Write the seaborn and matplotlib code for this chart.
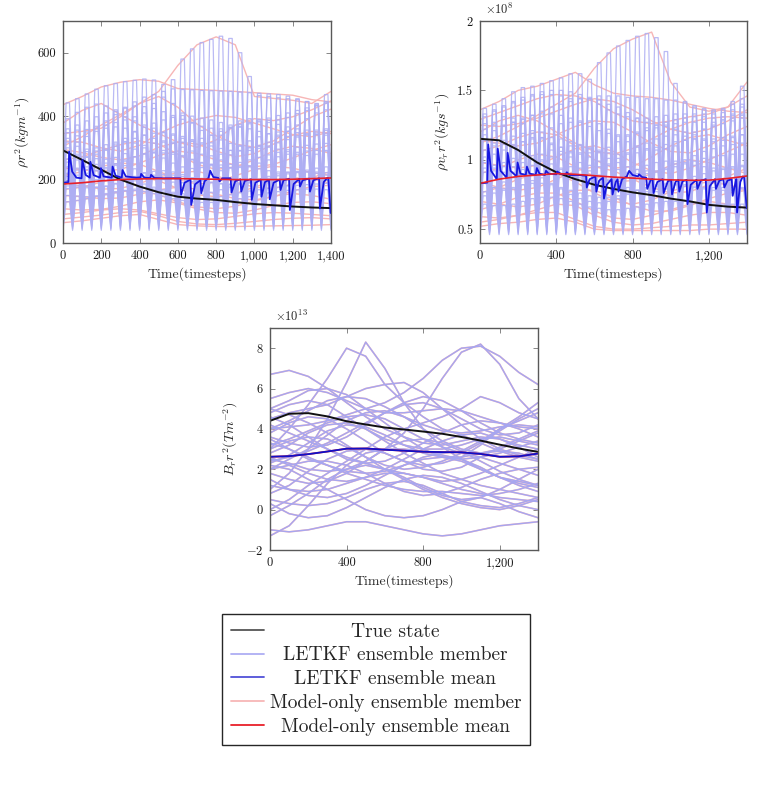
import numpy as np
import pandas as pd
import seaborn as sns
import matplotlib.pyplot as plt
from matplotlib.lines import Line2D

sns.set_theme(style='ticks')
plt.rcParams.update({
    'font.family': ['cmr10', 'DejaVu Serif'],
    'mathtext.fontset': 'cm',
    'axes.unicode_minus': False,
    'xtick.direction': 'in', 'ytick.direction': 'in',
    'xtick.top': True, 'ytick.right': True,
    'xtick.color': '0.45', 'ytick.color': '0.45',
    'xtick.labelcolor': '0.1', 'ytick.labelcolor': '0.1',
    'axes.edgecolor': '0.35', 'axes.linewidth': 1.0,
})

# ---- data ----
t_grid = [0, 100, 200, 300, 400, 500, 600, 700, 800, 900, 1000, 1100, 1200, 1300, 1400]
# LETKF cycles: analysis every 50 steps; each forecast climbs to its peak, then drops at analysis
t_arch = [s for k in range(0, 1400, 50) for s in (k, k + 16, k + 34)] + [1400]

# panel 1: rho r^2
p1_true = [292, 262, 231, 200, 178, 160, 146, 140, 136, 129, 123, 119, 115, 112, 110]
p1_model_mean = [186, 190, 196, 200, 202, 203, 203, 202, 201, 200, 200, 200, 201, 203, 205]
p1_mean_t = [0, 28, 32, 48, 70, 97, 101, 118, 140, 143, 160, 193, 198, 212, 255, 259, 275, 307, 311, 328,
             380, 405, 408, 425, 456, 460, 478, 530, 613, 617, 635, 666, 670, 690, 718, 722, 740, 760, 769, 785,
             812, 818, 832, 876, 880, 900, 927, 931, 950, 982, 986, 1005, 1033, 1037, 1055, 1076, 1080, 1100,
             1132, 1136, 1152, 1181, 1185, 1205, 1234, 1238, 1252, 1286, 1290, 1308, 1338, 1342, 1362, 1380,
             1386, 1398, 1400]
p1_mean_v = [190, 192, 288, 225, 206, 204, 262, 215, 206, 256, 214, 206, 236, 210, 206, 241, 212, 206, 230, 210,
             206, 207, 218, 206, 205, 215, 205, 204, 204, 152, 190, 200, 120, 185, 198, 157, 195, 205, 228, 208,
             205, 194, 204, 204, 159, 195, 201, 162, 196, 201, 136, 190, 200, 146, 192, 199, 138, 190,
             200, 167, 198, 202, 104, 186, 202, 178, 198, 203, 162, 198, 204, 109, 192, 205,
             204, 96, 94]
p1_model_members = [
    [436, 462, 492, 507, 515, 510, 487, 484, 481, 478, 474, 470, 466, 452, 445],
    [305, 335, 372, 405, 440, 478, 560, 625, 650, 625, 462, 456, 450, 440, 478],
    [378, 418, 440, 405, 372, 345, 318, 302, 325, 372, 392, 386, 398, 420, 448],
    [345, 352, 362, 398, 440, 462, 428, 375, 338, 312, 302, 322, 360, 398, 422],
    [322, 318, 300, 290, 308, 345, 372, 390, 402, 396, 378, 360, 342, 335, 352],
    [295, 285, 270, 262, 275, 302, 318, 312, 290, 272, 282, 312, 340, 352, 345],
    [262, 272, 292, 310, 322, 312, 280, 248, 232, 240, 262, 290, 305, 298, 282],
    [236, 232, 226, 232, 252, 276, 290, 282, 262, 246, 240, 248, 268, 292, 310],
    [212, 225, 242, 252, 248, 226, 200, 186, 192, 212, 232, 242, 236, 222, 212],
    [190, 180, 170, 172, 188, 208, 222, 226, 212, 192, 176, 172, 186, 206, 226],
    [168, 176, 192, 206, 210, 196, 172, 152, 146, 156, 176, 196, 206, 202, 188],
    [150, 146, 140, 142, 154, 168, 176, 170, 154, 140, 136, 146, 164, 178, 182],
    [128, 136, 150, 162, 166, 152, 130, 114, 108, 116, 132, 148, 156, 150, 138],
    [108, 104, 106, 116, 130, 136, 126, 108, 96, 94, 104, 118, 128, 130, 124],
    [90, 96, 104, 108, 104, 92, 80, 74, 76, 84, 92, 96, 94, 90, 86],
    [76, 82, 88, 96, 100, 86, 68, 60, 58, 62, 68, 74, 78, 80, 76],
    [64, 70, 78, 86, 90, 74, 58, 54, 52, 52, 53, 54, 55, 56, 58],
]
p1_letkf_peaks = [
    [442, 455, 470, 485, 496, 503, 509, 513, 517, 514, 500, 515, 580, 612, 632, 642, 652, 645, 600, 525, 465, 462, 458, 455, 452, 446, 438, 468],
    [392, 412, 428, 438, 432, 415, 398, 385, 372, 362, 350, 340, 330, 320, 312, 316, 340, 365, 385, 392, 390, 387, 388, 396, 408, 418, 432, 445],
    [348, 356, 358, 368, 385, 405, 425, 445, 460, 468, 460, 440, 410, 380, 355, 340, 325, 314, 305, 302, 308, 318, 335, 352, 372, 392, 410, 420],
    [330, 338, 350, 362, 372, 380, 388, 398, 410, 440, 478, 486, 484, 483, 481, 480, 479, 478, 476, 474, 472, 470, 468, 463, 455, 446, 440, 445],
    [318, 305, 296, 290, 296, 312, 330, 350, 365, 378, 388, 396, 402, 400, 394, 388, 380, 372, 365, 360, 352, 345, 340, 336, 338, 344, 350, 355],
    [288, 280, 272, 266, 264, 270, 282, 296, 308, 315, 318, 314, 302, 290, 280, 275, 280, 292, 308, 322, 335, 344, 350, 352, 348, 344, 342, 340],
    [265, 275, 288, 300, 310, 318, 320, 315, 300, 285, 268, 252, 240, 235, 238, 248, 262, 278, 292, 300, 304, 302, 296, 288, 280, 276, 280, 290],
    [240, 236, 232, 230, 234, 245, 258, 272, 282, 290, 292, 286, 276, 264, 254, 248, 246, 248, 254, 262, 270, 278, 286, 294, 302, 308, 312, 314],
    [220, 230, 240, 248, 252, 250, 244, 234, 222, 210, 200, 192, 190, 194, 204, 216, 228, 238, 242, 240, 234, 228, 224, 222, 224, 230, 236, 240],
    [196, 188, 180, 176, 178, 186, 198, 210, 220, 226, 228, 224, 216, 206, 198, 192, 188, 186, 188, 194, 202, 210, 218, 224, 226, 224, 220, 215],
    [172, 180, 190, 200, 206, 208, 204, 196, 186, 176, 168, 160, 155, 152, 154, 160, 168, 176, 184, 190, 194, 196, 198, 200, 202, 204, 205, 206],
    [150, 148, 146, 148, 152, 158, 164, 170, 172, 170, 164, 156, 148, 142, 140, 142, 146, 152, 158, 164, 168, 172, 176, 180, 182, 184, 186, 188],
    [360, 372, 385, 398, 410, 420, 428, 432, 430, 424, 414, 402, 390, 378, 368, 362, 360, 362, 368, 376, 385, 394, 402, 410, 418, 426, 434, 440],
    [300, 318, 336, 352, 362, 366, 362, 352, 340, 330, 322, 318, 318, 322, 330, 340, 352, 364, 374, 380, 382, 380, 374, 366, 360, 356, 356, 360],
    [255, 262, 270, 280, 292, 305, 318, 330, 340, 346, 348, 344, 336, 326, 316, 306, 298, 292, 290, 292, 298, 306, 316, 326, 334, 340, 344, 346],
    [210, 214, 220, 228, 238, 250, 262, 272, 280, 284, 284, 280, 272, 262, 252, 244, 238, 236, 238, 244, 252, 262, 272, 280, 286, 290, 292, 292],
    [180, 176, 174, 176, 180, 188, 196, 204, 210, 214, 216, 214, 210, 204, 196, 190, 186, 184, 186, 190, 196, 204, 212, 218, 222, 224, 224, 222],
    [130, 134, 140, 148, 156, 162, 166, 166, 162, 156, 148, 140, 134, 130, 128, 128, 130, 134, 140, 146, 152, 158, 162, 166, 168, 170, 170, 168],
]
p1_letkf_troughs = [170, 140, 120, 200, 110, 95, 85, 75, 65, 60, 55, 50, 130, 100, 80, 70, 45, 40]

# panel 2: rho v_r r^2 (x 1e8)
p2_true = [1.151, 1.14, 1.07, 0.98, 0.91, 0.86, 0.82, 0.79, 0.765, 0.745, 0.72, 0.70, 0.675, 0.662, 0.655]
p2_model_mean = [0.83, 0.86, 0.88, 0.89, 0.90, 0.895, 0.885, 0.875, 0.868, 0.86, 0.855, 0.852, 0.853, 0.865, 0.883]
p2_mean_t = [0, 38, 43, 58, 88, 93, 108, 140, 145, 160, 192, 197, 212, 240, 246, 260, 292, 298, 312, 340,
             346, 360, 400, 405, 420, 450, 455, 470, 510, 556, 560, 575, 605, 610, 625, 645, 650, 665, 690, 695,
             712, 722, 726, 745, 770, 782, 800, 828, 834, 850, 872, 877, 895, 905, 910, 930, 958, 963, 985, 1002,
             1007, 1025, 1040, 1045, 1062, 1083, 1088, 1105, 1135, 1140, 1158, 1184, 1189, 1205, 1232, 1237,
             1255, 1276, 1281, 1298, 1320, 1325, 1340, 1344, 1348, 1365, 1378, 1385, 1398, 1400]
p2_mean_v = [0.83, 0.835, 1.11, 0.92, 0.86, 1.08, 0.92, 0.87, 1.05, 0.92, 0.88, 0.98, 0.90, 0.89, 0.95, 0.90,
             0.89, 0.94, 0.90, 0.89, 0.92, 0.90, 0.895, 0.915, 0.90, 0.895, 0.91, 0.89, 0.89, 0.885, 0.80, 0.86,
             0.88, 0.77, 0.85, 0.87, 0.72, 0.82, 0.86, 0.75, 0.84, 0.86, 0.77, 0.86, 0.88, 0.92, 0.89, 0.88,
             0.895, 0.875, 0.87, 0.79, 0.855, 0.86, 0.76, 0.84, 0.86, 0.76, 0.845, 0.855, 0.75, 0.84, 0.855,
             0.77, 0.845, 0.855, 0.68, 0.82, 0.855, 0.79, 0.85, 0.86, 0.62, 0.81, 0.86, 0.79, 0.85, 0.86, 0.80,
             0.85, 0.86, 0.74, 0.84, 0.86, 0.62, 0.84, 0.88, 0.87, 0.66, 0.65]
p2_model_members = [
    [1.36, 1.42, 1.50, 1.53, 1.58, 1.63, 1.54, 1.48, 1.46, 1.45, 1.43, 1.40, 1.37, 1.35, 1.34],
    [1.12, 1.17, 1.24, 1.32, 1.40, 1.48, 1.66, 1.80, 1.87, 1.92, 1.56, 1.38, 1.35, 1.38, 1.56],
    [1.29, 1.34, 1.39, 1.44, 1.47, 1.46, 1.42, 1.34, 1.28, 1.26, 1.28, 1.31, 1.33, 1.38, 1.46],
    [1.25, 1.24, 1.26, 1.30, 1.35, 1.40, 1.44, 1.42, 1.36, 1.28, 1.22, 1.19, 1.22, 1.28, 1.36],
    [1.20, 1.28, 1.32, 1.28, 1.20, 1.12, 1.06, 1.04, 1.08, 1.15, 1.22, 1.27, 1.30, 1.31, 1.30],
    [1.14, 1.12, 1.10, 1.12, 1.18, 1.24, 1.28, 1.27, 1.20, 1.12, 1.06, 1.05, 1.10, 1.18, 1.24],
    [1.06, 1.10, 1.16, 1.20, 1.18, 1.10, 1.00, 0.94, 0.95, 1.02, 1.10, 1.16, 1.18, 1.14, 1.10],
    [0.98, 0.96, 0.94, 0.96, 1.02, 1.08, 1.10, 1.06, 0.98, 0.92, 0.90, 0.94, 1.00, 1.06, 1.12],
    [0.90, 0.94, 1.00, 1.04, 1.02, 0.95, 0.88, 0.84, 0.85, 0.90, 0.96, 1.00, 0.98, 0.94, 0.90],
    [0.84, 0.80, 0.78, 0.80, 0.86, 0.92, 0.95, 0.92, 0.86, 0.80, 0.76, 0.77, 0.82, 0.88, 0.94],
    [0.76, 0.80, 0.86, 0.90, 0.90, 0.84, 0.76, 0.70, 0.68, 0.71, 0.77, 0.82, 0.84, 0.82, 0.78],
    [0.70, 0.68, 0.66, 0.68, 0.74, 0.78, 0.78, 0.73, 0.67, 0.63, 0.63, 0.67, 0.72, 0.76, 0.78],
    [0.64, 0.68, 0.73, 0.76, 0.76, 0.70, 0.63, 0.58, 0.57, 0.60, 0.64, 0.68, 0.70, 0.68, 0.65],
    [0.59, 0.58, 0.60, 0.64, 0.68, 0.67, 0.60, 0.55, 0.53, 0.54, 0.57, 0.60, 0.62, 0.62, 0.60],
    [0.55, 0.57, 0.60, 0.62, 0.62, 0.57, 0.52, 0.50, 0.50, 0.51, 0.52, 0.53, 0.53, 0.54, 0.55],
    [0.52, 0.54, 0.55, 0.57, 0.58, 0.55, 0.50, 0.49, 0.49, 0.49, 0.49, 0.49, 0.50, 0.50, 0.50],
]
p2_letkf_peaks = [
    [1.37, 1.40, 1.44, 1.49, 1.52, 1.53, 1.55, 1.57, 1.59, 1.62, 1.62, 1.58, 1.70, 1.77, 1.82, 1.86, 1.89, 1.91, 1.88, 1.78, 1.55, 1.42, 1.38, 1.36, 1.35, 1.36, 1.42, 1.53],
    [1.31, 1.35, 1.38, 1.41, 1.43, 1.46, 1.47, 1.47, 1.46, 1.44, 1.44, 1.45, 1.46, 1.46, 1.46, 1.45, 1.45, 1.44, 1.44, 1.43, 1.43, 1.41, 1.39, 1.37, 1.36, 1.37, 1.40, 1.44],
    [1.26, 1.25, 1.25, 1.27, 1.29, 1.32, 1.35, 1.38, 1.40, 1.42, 1.44, 1.44, 1.43, 1.40, 1.38, 1.34, 1.30, 1.27, 1.25, 1.24, 1.22, 1.20, 1.20, 1.22, 1.25, 1.29, 1.33, 1.38],
    [1.22, 1.27, 1.31, 1.30, 1.26, 1.21, 1.16, 1.12, 1.09, 1.06, 1.05, 1.05, 1.06, 1.09, 1.13, 1.17, 1.20, 1.23, 1.25, 1.27, 1.29, 1.30, 1.31, 1.31, 1.30, 1.31, 1.32, 1.33],
    [1.14, 1.12, 1.11, 1.11, 1.13, 1.16, 1.20, 1.23, 1.26, 1.27, 1.28, 1.28, 1.26, 1.22, 1.17, 1.13, 1.10, 1.08, 1.07, 1.08, 1.10, 1.14, 1.18, 1.22, 1.24, 1.26, 1.28, 1.30],
    [1.07, 1.10, 1.14, 1.17, 1.19, 1.19, 1.15, 1.11, 1.06, 1.02, 0.98, 0.96, 0.95, 0.97, 1.01, 1.05, 1.09, 1.12, 1.15, 1.17, 1.18, 1.17, 1.15, 1.14, 1.13, 1.14, 1.16, 1.18],
    [0.98, 0.96, 0.95, 0.95, 0.98, 1.01, 1.04, 1.07, 1.09, 1.10, 1.10, 1.08, 1.05, 1.01, 0.98, 0.95, 0.93, 0.92, 0.92, 0.94, 0.97, 1.00, 1.03, 1.06, 1.08, 1.10, 1.11, 1.12],
    [0.91, 0.94, 0.98, 1.01, 1.03, 1.03, 1.00, 0.97, 0.93, 0.90, 0.87, 0.85, 0.84, 0.85, 0.87, 0.90, 0.93, 0.96, 0.98, 0.99, 0.99, 0.98, 0.96, 0.95, 0.94, 0.94, 0.95, 0.96],
    [0.83, 0.80, 0.79, 0.79, 0.82, 0.85, 0.89, 0.92, 0.94, 0.95, 0.94, 0.92, 0.89, 0.86, 0.83, 0.80, 0.78, 0.77, 0.77, 0.79, 0.82, 0.85, 0.88, 0.90, 0.92, 0.93, 0.94, 0.95],
    [0.77, 0.80, 0.84, 0.87, 0.90, 0.90, 0.87, 0.83, 0.79, 0.75, 0.72, 0.70, 0.69, 0.70, 0.72, 0.75, 0.78, 0.80, 0.82, 0.83, 0.83, 0.82, 0.81, 0.80, 0.80, 0.80, 0.80, 0.80],
    [1.33, 1.36, 1.39, 1.42, 1.45, 1.47, 1.49, 1.50, 1.50, 1.49, 1.47, 1.44, 1.40, 1.36, 1.33, 1.31, 1.30, 1.30, 1.31, 1.32, 1.33, 1.33, 1.33, 1.33, 1.33, 1.34, 1.36, 1.40],
    [1.18, 1.21, 1.24, 1.27, 1.30, 1.32, 1.33, 1.33, 1.32, 1.30, 1.27, 1.24, 1.21, 1.19, 1.18, 1.18, 1.19, 1.21, 1.23, 1.25, 1.26, 1.27, 1.27, 1.27, 1.27, 1.28, 1.30, 1.32],
    [1.02, 1.04, 1.07, 1.10, 1.13, 1.15, 1.16, 1.16, 1.15, 1.13, 1.11, 1.09, 1.07, 1.05, 1.04, 1.04, 1.05, 1.07, 1.09, 1.11, 1.13, 1.14, 1.15, 1.15, 1.15, 1.16, 1.17, 1.18],
    [0.94, 0.92, 0.91, 0.91, 0.93, 0.96, 0.99, 1.02, 1.04, 1.05, 1.04, 1.02, 0.99, 0.96, 0.93, 0.91, 0.90, 0.90, 0.91, 0.93, 0.95, 0.97, 0.99, 1.01, 1.02, 1.03, 1.04, 1.04],
    [0.74, 0.76, 0.78, 0.80, 0.82, 0.83, 0.83, 0.82, 0.80, 0.78, 0.76, 0.74, 0.73, 0.73, 0.74, 0.76, 0.78, 0.80, 0.81, 0.82, 0.82, 0.81, 0.80, 0.79, 0.78, 0.78, 0.78, 0.79],
    [0.68, 0.67, 0.67, 0.68, 0.70, 0.72, 0.73, 0.73, 0.72, 0.70, 0.68, 0.66, 0.65, 0.64, 0.64, 0.65, 0.66, 0.68, 0.69, 0.70, 0.70, 0.70, 0.69, 0.68, 0.68, 0.68, 0.68, 0.68],
]
p2_letkf_troughs = [0.80, 0.70, 0.65, 0.60, 0.56, 0.53, 0.51, 0.50, 0.49, 0.48, 0.75, 0.62, 0.55, 0.50, 0.47, 0.46]

# panel 3: B_r r^2 (x 1e13), LETKF and model-only members coincide
p3_true = [4.40, 4.75, 4.78, 4.62, 4.38, 4.22, 4.07, 3.97, 3.87, 3.76, 3.60, 3.42, 3.22, 3.03, 2.86]
p3_mean = [2.62, 2.65, 2.75, 2.88, 3.02, 3.03, 2.97, 2.92, 2.87, 2.85, 2.84, 2.76, 2.62, 2.64, 2.78]
p3_members = [
    [6.7, 6.9, 6.6, 6.0, 5.3, 4.6, 4.0, 3.6, 3.3, 3.2, 3.4, 3.6, 3.5, 3.2, 3.0],
    [3.0, 4.0, 5.2, 6.5, 8.0, 7.6, 6.2, 5.3, 4.6, 4.0, 3.7, 3.3, 2.9, 2.6, 2.4],
    [1.0, 1.8, 3.0, 4.5, 6.3, 8.3, 7.0, 5.3, 4.0, 3.1, 2.5, 2.0, 1.6, 1.4, 1.2],
    [2.5, 2.3, 2.0, 1.9, 2.0, 2.4, 3.0, 3.8, 5.0, 6.5, 7.8, 8.2, 7.2, 5.5, 4.5],
    [4.0, 4.1, 4.2, 4.4, 4.7, 5.0, 5.3, 5.8, 6.5, 7.4, 8.0, 8.1, 7.6, 6.8, 6.2],
    [5.0, 5.4, 5.9, 6.0, 5.7, 5.0, 4.3, 3.6, 3.0, 2.6, 2.5, 2.6, 2.8, 3.1, 3.4],
    [4.5, 4.8, 5.0, 5.2, 5.6, 6.0, 6.2, 6.3, 5.8, 5.0, 4.2, 3.5, 3.0, 2.7, 2.5],
    [-1.3, -0.8, 0.2, 1.3, 2.2, 2.8, 3.0, 3.0, 2.9, 2.7, 2.5, 2.1, 1.6, 1.2, 0.9],
    [-1.0, -1.1, -1.0, -0.8, -0.6, -0.6, -0.8, -1.0, -1.2, -1.3, -1.2, -1.0, -0.8, -0.7, -0.6],
    [0.0, 0.5, 1.2, 1.8, 2.4, 3.0, 3.6, 4.0, 4.3, 4.6, 5.0, 5.6, 5.3, 4.8, 4.5],
    [2.2, 2.0, 1.5, 1.0, 0.5, 0.0, -0.3, -0.4, -0.3, 0.0, 0.4, 0.6, 0.3, -0.1, -0.4],
    [3.5, 3.0, 2.5, 2.2, 1.8, 1.5, 1.2, 1.0, 0.9, 0.9, 0.8, 0.7, 0.8, 1.0, 1.3],
    [2.8, 3.2, 3.8, 4.2, 4.3, 4.0, 3.4, 2.8, 2.3, 1.8, 1.5, 1.2, 1.0, 0.8, 0.6],
    [1.5, 1.0, 0.7, 0.6, 0.8, 1.2, 1.7, 2.2, 2.6, 2.8, 2.9, 3.4, 4.0, 4.4, 4.8],
    [4.2, 3.8, 3.4, 3.0, 2.6, 2.3, 2.0, 1.8, 1.6, 1.4, 1.5, 1.8, 2.2, 2.6, 3.0],
    [2.0, 2.5, 3.0, 3.7, 4.4, 4.8, 4.9, 4.6, 4.0, 3.4, 3.0, 2.8, 3.0, 3.4, 3.8],
    [0.5, 0.3, 0.2, 0.3, 0.6, 1.0, 1.3, 1.4, 1.2, 0.8, 0.4, 0.2, 0.1, 0.3, 0.6],
    [3.8, 4.3, 4.6, 4.5, 4.0, 3.4, 2.8, 2.4, 2.2, 2.3, 2.6, 3.2, 4.0, 4.6, 5.3],
    [2.6, 2.2, 1.8, 1.5, 1.4, 1.6, 2.0, 2.5, 3.0, 3.4, 3.7, 3.8, 3.5, 3.1, 2.6],
    [5.0, 4.7, 4.3, 3.8, 3.2, 2.6, 2.0, 1.5, 1.0, 0.6, 0.3, 0.1, 0.0, 0.2, 0.5],
    [3.2, 3.5, 3.9, 4.3, 4.6, 4.7, 4.5, 4.0, 3.5, 3.1, 2.8, 2.6, 2.3, 2.0, 1.7],
    [-0.3, 0.2, 0.8, 1.5, 2.0, 2.2, 2.0, 1.6, 1.1, 0.7, 0.5, 0.6, 1.0, 1.5, 2.0],
    [2.4, 2.6, 2.9, 3.3, 3.8, 4.3, 4.8, 5.3, 5.6, 5.4, 4.9, 4.3, 3.8, 3.5, 3.3],
    [1.8, 1.5, 1.3, 1.4, 1.8, 2.4, 3.0, 3.4, 3.5, 3.3, 2.9, 2.4, 1.9, 1.5, 1.2],
    [4.8, 5.2, 5.4, 5.2, 4.6, 4.0, 3.5, 3.2, 3.0, 3.0, 3.2, 3.5, 3.6, 3.4, 3.2],
    [0.8, 1.2, 1.9, 2.5, 2.9, 3.0, 2.8, 2.4, 2.0, 1.9, 2.1, 2.6, 3.1, 3.5, 3.9],
    [5.5, 5.8, 6.0, 5.8, 5.4, 5.0, 4.8, 4.8, 4.9, 5.0, 4.9, 4.6, 4.3, 4.1, 4.0],
    [3.6, 3.3, 3.1, 3.2, 3.6, 4.2, 4.8, 5.2, 5.3, 5.0, 4.5, 4.0, 3.7, 3.8, 4.2],
    [2.0, 2.2, 2.4, 2.4, 2.2, 1.8, 1.3, 0.9, 0.7, 0.8, 1.1, 1.5, 1.8, 2.0, 2.1],
    [4.6, 4.2, 3.6, 3.0, 2.5, 2.3, 2.4, 2.8, 3.3, 3.8, 4.2, 4.4, 4.3, 4.0, 3.6],
    [1.2, 1.0, 0.9, 1.0, 1.3, 1.6, 1.8, 1.8, 1.6, 1.3, 1.0, 0.8, 0.6, 0.5, 0.4],
    [3.0, 3.4, 3.6, 3.5, 3.1, 2.6, 2.2, 2.0, 2.1, 2.4, 2.8, 3.3, 3.9, 4.5, 5.0],
    [0.3, -0.2, -0.4, -0.3, 0.1, 0.6, 1.1, 1.5, 1.7, 1.6, 1.3, 0.9, 0.5, 0.2, 0.0],
    [4.0, 4.4, 4.9, 5.4, 5.6, 5.5, 5.1, 4.6, 4.2, 3.9, 3.8, 3.9, 4.1, 4.2, 4.1],
    [2.3, 2.7, 3.3, 3.9, 4.2, 4.1, 3.7, 3.2, 2.8, 2.6, 2.6, 2.8, 2.9, 2.8, 2.5],
    [3.3, 3.0, 2.6, 2.2, 1.9, 1.8, 1.9, 2.2, 2.5, 2.6, 2.4, 2.0, 1.6, 1.3, 1.1],
]

labels = ['True state', 'LETKF ensemble member', 'LETKF ensemble mean',
          'Model-only ensemble member', 'Model-only ensemble mean']
c_true, c_lmem, c_lmean, c_mmem, c_mmean = '#111111', '#aeaef3', '#1717e0', '#f7b6b6', '#e8202a'


def long_df(members, t):
    rows = [(i, tt, v) for i, m in enumerate(members) for tt, v in zip(t, m)]
    return pd.DataFrame(rows, columns=['member', 't', 'v'])


def arches(trough, peaks):
    vals = []
    for p in peaks:
        vals += [trough, p, p]
    return vals + [trough]


def draw(ax, df, color, lw, alpha=1.0):
    sns.lineplot(data=df, x='t', y='v', units='member', estimator=None, color=color,
                 lw=lw, alpha=alpha, ax=ax, legend=False)


fig = plt.figure(figsize=(7.61, 7.87), dpi=100)
ax1 = fig.add_axes([63 / 761, 1 - 243 / 787, 268 / 761, 222 / 787])
ax2 = fig.add_axes([480 / 761, 1 - 243 / 787, 267 / 761, 222 / 787])
ax3 = fig.add_axes([270 / 761, 1 - 550 / 787, 268 / 761, 222 / 787])

for ax, mm, pk, tr, mt, mv, mmean, true in [
        (ax1, p1_model_members, p1_letkf_peaks, p1_letkf_troughs, p1_mean_t, p1_mean_v, p1_model_mean, p1_true),
        (ax2, p2_model_members, p2_letkf_peaks, p2_letkf_troughs, p2_mean_t, p2_mean_v, p2_model_mean, p2_true)]:
    letkf = [arches(a, b) for a, b in zip(tr, pk)]
    draw(ax, long_df(mm, t_grid), c_mmem, 1.0, 1.0)
    draw(ax, long_df(letkf, t_arch), c_lmem, 0.9, 0.85)
    sns.lineplot(x=t_grid, y=true, color=c_true, lw=1.4, ax=ax)
    sns.lineplot(x=mt, y=mv, color=c_lmean, lw=1.3, ax=ax)
    sns.lineplot(x=t_grid, y=mmean, color=c_mmean, lw=1.2, ax=ax)

# model-only members sit just under the LETKF ones here
p3_df = long_df(p3_members, t_grid)
draw(ax3, p3_df, c_mmem, 1.2, 1.0)
draw(ax3, p3_df, '#a6a6f1', 1.0, 1.0)
sns.lineplot(x=t_grid, y=p3_true, color=c_true, lw=1.4, ax=ax3)
sns.lineplot(x=t_grid, y=p3_mean, color=c_mmean, lw=1.3, ax=ax3)
sns.lineplot(x=t_grid, y=p3_mean, color='#1010c8', lw=1.3, ax=ax3)

ax1.set_ylim(0, 700)
ax1.set_yticks([0, 200, 400, 600], ['0', '200', '400', '600'])
ax1.set_xticks(range(0, 1401, 200), ['0', '200', '400', '600', '800', '1,000', '1,200', '1,400'])
ax1.set_ylabel(r'$\rho r^2(kgm^{-1})$', fontsize=10)

ax2.set_ylim(0.4, 2.0)
ax2.set_yticks([0.5, 1, 1.5, 2], ['0.5', '1', '1.5', '2'])
ax2.set_ylabel(r'$\rho v_r r^2(kgs^{-1})$', fontsize=10)
ax2.text(0.02, 1.02, r'$\times10^{8}$', transform=ax2.transAxes, fontsize=9, va='bottom')

ax3.set_ylim(-2, 9)
ax3.set_yticks([-2, 0, 2, 4, 6, 8], [r'$-2$', '0', '2', '4', '6', '8'])
ax3.set_ylabel(r'$B_r r^2(Tm^{-2})$', fontsize=10)
ax3.text(0.02, 1.02, r'$\times10^{13}$', transform=ax3.transAxes, fontsize=9, va='bottom')

for ax in (ax2, ax3):
    ax.set_xticks([0, 400, 800, 1200], ['0', '400', '800', '1,200'])
for ax in (ax1, ax2, ax3):
    ax.set_xlim(0, 1400)
    ax.set_xlabel('Time(timesteps)', fontsize=10, labelpad=4)
    ax.tick_params(labelsize=9, length=3.5, width=0.6, pad=5)
    for s in ax.spines.values():
        s.set_visible(True)

handles = [Line2D([], [], color=c, lw=1.3) for c in (c_true, c_lmem, c_lmean, c_mmem, c_mmean)]
handles[0].set_color('#555555')
handles[2].set_color('#5050d8')
leg = fig.legend(handles, labels, loc='upper center', bbox_to_anchor=(376 / 761, 1 - 614 / 787),
                 borderaxespad=0, fontsize=14, frameon=True, fancybox=False, edgecolor='0.15',
                 framealpha=1, handlelength=1.7, handletextpad=0.3, labelspacing=0.3, borderpad=0.45)
leg.get_frame().set_linewidth(1.0)

# centre each label in the space right of the handles
fig.canvas.draw()
r = fig.canvas.get_renderer()
widths = [t.get_window_extent(r).width for t in leg.get_texts()]
rows = [row for col in leg._legend_handle_box.get_children() for row in col.get_children()]
for row, w in zip(rows, widths):
    row.sep += (max(widths) - w) / 2 * 72 / fig.dpi

fig.savefig('out.png', dpi=100)
